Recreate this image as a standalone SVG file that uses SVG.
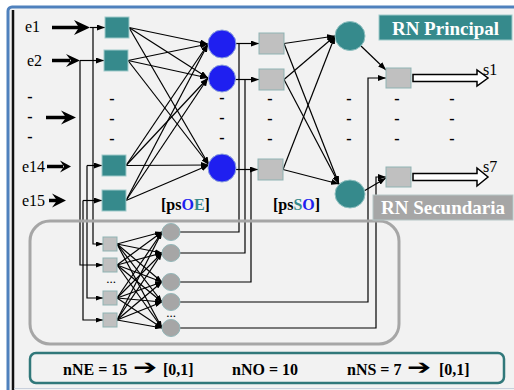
<svg xmlns="http://www.w3.org/2000/svg" width="514" height="390" viewBox="0 0 514 390">
<style>
.ser{font-family:"Liberation Serif","Times New Roman",serif;}
.lbl{font-family:"Liberation Serif","Times New Roman",serif;font-size:16px;fill:#000;}
.b{font-weight:bold;}
.dash{font-family:"Liberation Serif",serif;font-size:16px;font-weight:bold;text-anchor:middle;fill:#000;}
.ln{fill:none;stroke:#000;stroke-width:1.2;}
.ar{marker-end:url(#ah);}
.ars{marker-end:url(#ahs);}
.tsq{fill:#368a8c;stroke:#9fcaca;stroke-width:1;}
.gsq{fill:#c0c0c0;stroke:#8fb3b3;stroke-width:1;}
.bc{fill:#1f1ff0;stroke:#8aa0dc;stroke-width:1;}
.tc{fill:#368a8c;stroke:#8fc0c0;stroke-width:1;}
.gc{fill:#a6a6a6;stroke:#93b6b8;stroke-width:1;}
.big{fill:#000;}
.shaft{stroke:#000;stroke-width:3.5;fill:none;}
.hol{fill:#fff;stroke:#000;stroke-width:1.5;}
.arw{font-family:"DejaVu Sans",sans-serif;font-size:18px;}
</style>
<defs>
<marker id="ah" markerWidth="8" markerHeight="6" refX="8" refY="3" orient="auto" markerUnits="userSpaceOnUse"><path d="M0,0 L8,3 L0,6 Z" fill="#000"/></marker>
<marker id="ahs" markerWidth="7" markerHeight="5" refX="7" refY="2.5" orient="auto" markerUnits="userSpaceOnUse"><path d="M0,0 L7,2.5 L0,5 Z" fill="#000"/></marker>
</defs>
<rect x="0" y="0" width="514" height="390" fill="#fff"/>
<rect x="8" y="7" width="520" height="400" rx="4" fill="#f2f2f2" stroke="#4f81bd" stroke-width="3"/>
<line x1="13" y1="10" x2="13" y2="390" stroke="#111" stroke-width="2.5"/>
<line x1="14" y1="388.5" x2="514" y2="388.5" stroke="#c8d0dc" stroke-width="1"/>

<g id="connectors">
<path class="shaft" d="M52,27.5 H80"/>
<path class="big" d="M90,27.5 L74,20 L79,27.5 L74,35 Z"/>
<path class="shaft" d="M52,60.5 H70"/>
<path class="big" d="M80,60.5 L66,54 L71,60.5 L66,67 Z"/>
<path class="shaft" d="M46,117.5 H66"/>
<path class="big" d="M76,117.5 L61,110.5 L66,117.5 L61,124.5 Z"/>
<path class="shaft" d="M47,166.5 H63"/>
<path class="big" d="M71,166.5 L60,160.5 L64,166.5 L60,172.5 Z"/>
<path class="shaft" d="M49,200.5 H57"/>
<path class="big" d="M66,200.5 L52,193.5 L57,200.5 L52,207.5 Z"/>
<path class="ln ar" d="M90,27.5 H105"/>
<path class="ln ar" d="M80,60.5 H104"/>
<path class="ln ar" d="M87,165.5 H102"/>
<path class="ln ar" d="M83,200.5 H102"/>
<path class="ln ars" d="M93,27.5 V244 H103"/>
<path class="ln ars" d="M80,60.5 V265 H103"/>
<path class="ln ars" d="M87,165.5 V298 H103"/>
<path class="ln ars" d="M83,200.5 V320 H103"/>
<path class="ln ar" d="M129,27.5 L208,44"/>
<path class="ln ar" d="M129,27.5 L208,78"/>
<path class="ln ar" d="M129,27.5 L209,165"/>
<path class="ln ar" d="M128,60.5 L208,44"/>
<path class="ln ar" d="M128,60.5 L208,78"/>
<path class="ln ar" d="M128,60.5 L209,165"/>
<path class="ln ar" d="M126,165.5 L208,44"/>
<path class="ln ar" d="M126,165.5 L208,78"/>
<path class="ln ar" d="M126,165.5 L209,165"/>
<path class="ln ar" d="M126,200.5 L208,44"/>
<path class="ln ar" d="M126,200.5 L208,78"/>
<path class="ln ar" d="M126,200.5 L209,165"/>
<path class="ln ar" d="M236,43.5 H259"/>
<path class="ln ar" d="M235,79.5 H259"/>
<path class="ln ar" d="M236,169.5 H258"/>
<path class="ln" d="M180,232 H239 V43.5"/>
<path class="ln" d="M180,253 H245 V79.5"/>
<path class="ln" d="M180,282 H251 V169.5"/>
<path class="ln ar" d="M180,302 H368 V78 H386"/>
<path class="ln ar" d="M180,328 H376 V177 H386"/>
<path class="ln ar" d="M284,43.5 L335,36"/>
<path class="ln ar" d="M284,43.5 L339,184"/>
<path class="ln ar" d="M284,79.5 L335,36"/>
<path class="ln ar" d="M284,79.5 L339,184"/>
<path class="ln ar" d="M283,169.5 L335,36"/>
<path class="ln ar" d="M283,169.5 L339,184"/>
<path class="ln ar" d="M361,46 L386,70"/>
<path class="ln ar" d="M364,191 L386,178"/>
<path class="ln ars" d="M117,244 L162,232"/>
<path class="ln ars" d="M117,244 L162,253"/>
<path class="ln ars" d="M117,244 L162,282"/>
<path class="ln ars" d="M117,244 L162,302"/>
<path class="ln ars" d="M117,244 L162,328"/>
<path class="ln ars" d="M117,265 L162,232"/>
<path class="ln ars" d="M117,265 L162,253"/>
<path class="ln ars" d="M117,265 L162,282"/>
<path class="ln ars" d="M117,265 L162,302"/>
<path class="ln ars" d="M117,265 L162,328"/>
<path class="ln ars" d="M117,298 L162,232"/>
<path class="ln ars" d="M117,298 L162,253"/>
<path class="ln ars" d="M117,298 L162,282"/>
<path class="ln ars" d="M117,298 L162,302"/>
<path class="ln ars" d="M117,298 L162,328"/>
<path class="ln ars" d="M117,320 L162,232"/>
<path class="ln ars" d="M117,320 L162,253"/>
<path class="ln ars" d="M117,320 L162,282"/>
<path class="ln ars" d="M117,320 L162,302"/>
<path class="ln ars" d="M117,320 L162,328"/>
<path class="hol" d="M413,74.5 H477 V70 L488,78 L477,86 V81.5 H413 Z"/>
<path class="hol" d="M413,173.5 H477 V168 L488,177 L477,186 V180.5 H413 Z"/>
</g>

<rect x="30" y="221" width="369" height="123" rx="20" fill="none" stroke="#a6a6a6" stroke-width="3"/>

<g id="node-in1"><rect class="tsq" x="105" y="17" width="24" height="21"/></g>
<g id="node-in2"><rect class="tsq" x="104" y="50" width="24" height="21"/></g>
<g id="node-in14"><rect class="tsq" x="102" y="155" width="24" height="21"/></g>
<g id="node-in15"><rect class="tsq" x="102" y="190" width="24" height="21"/></g>
<g id="node-oe1"><circle class="bc" cx="222" cy="44" r="14"/></g>
<g id="node-oe2"><circle class="bc" cx="222" cy="78.5" r="13.5"/></g>
<g id="node-oe10"><circle class="bc" cx="222" cy="168" r="14"/></g>
<g id="node-ps1"><rect class="gsq" x="259" y="33" width="25" height="21"/></g>
<g id="node-ps2"><rect class="gsq" x="259" y="69" width="25" height="21"/></g>
<g id="node-ps10"><rect class="gsq" x="258" y="159" width="25" height="21"/></g>
<g id="node-so1"><ellipse class="tc" cx="350" cy="36" rx="15" ry="14.5"/></g>
<g id="node-so2"><ellipse class="tc" cx="350" cy="194" rx="15" ry="14"/></g>
<g id="node-out1"><rect class="gsq" x="386" y="68" width="25" height="20"/></g>
<g id="node-out7"><rect class="gsq" x="386" y="167" width="25" height="20"/></g>
<g id="node-sin1"><rect class="gsq" x="103" y="237" width="14" height="14"/></g>
<g id="node-sin2"><rect class="gsq" x="103" y="258" width="14" height="14"/></g>
<g id="node-sin3"><rect class="gsq" x="103" y="291" width="14" height="14"/></g>
<g id="node-sin4"><rect class="gsq" x="103" y="313" width="14" height="14"/></g>
<g id="node-sh1"><ellipse class="gc" cx="171" cy="232" rx="9" ry="8.5"/></g>
<g id="node-sh2"><ellipse class="gc" cx="171" cy="253" rx="9" ry="8.5"/></g>
<g id="node-sh3"><ellipse class="gc" cx="171" cy="282" rx="9" ry="8.5"/></g>
<g id="node-sh4"><ellipse class="gc" cx="171" cy="302" rx="9" ry="8.5"/></g>
<g id="node-sh5"><ellipse class="gc" cx="171" cy="328" rx="9" ry="8.5"/></g>

<g id="labels">
<text class="lbl" x="25" y="32">e1</text>
<text class="lbl" x="27" y="66">e2</text>
<text class="lbl" x="22" y="172">e14</text>
<text class="lbl" x="22" y="206">e15</text>
<text class="lbl" x="483" y="75">s1</text>
<text class="lbl" x="483" y="172">s7</text>
<text class="dash" x="30" y="102">-</text>
<text class="dash" x="30" y="122">-</text>
<text class="dash" x="30" y="142">-</text>
<text class="dash" x="112" y="104">-</text>
<text class="dash" x="112" y="124">-</text>
<text class="dash" x="112" y="144">-</text>
<text class="dash" x="222" y="103">-</text>
<text class="dash" x="222" y="123">-</text>
<text class="dash" x="222" y="143">-</text>
<text class="dash" x="270" y="104">-</text>
<text class="dash" x="270" y="124">-</text>
<text class="dash" x="270" y="144">-</text>
<text class="dash" x="349" y="104">-</text>
<text class="dash" x="349" y="124">-</text>
<text class="dash" x="349" y="144">-</text>
<text class="dash" x="397" y="104">-</text>
<text class="dash" x="397" y="124">-</text>
<text class="dash" x="397" y="144">-</text>
<text class="dash" x="452" y="104">-</text>
<text class="dash" x="452" y="124">-</text>
<text class="dash" x="452" y="144">-</text>
<text class="ser" x="111" y="283" font-size="13" text-anchor="middle">...</text>
<text class="ser" x="171" y="317" font-size="13" text-anchor="middle">...</text>
<text class="ser b" x="161" y="210" font-size="16">[ps<tspan fill="#1f1ff0">O</tspan><tspan fill="#368a8c">E</tspan>]</text>
<text class="ser b" x="273" y="210" font-size="16">[ps<tspan fill="#368a8c">S</tspan><tspan fill="#1f1ff0">O</tspan>]</text>
</g>

<g id="rn-principal">
<rect x="379" y="15" width="133" height="25" fill="#368a8c" stroke="#9fcaca" stroke-width="1"/>
<text class="ser b" x="445.5" y="35" font-size="19" fill="#fff" text-anchor="middle">RN Principal</text>
</g>
<g id="rn-secundaria">
<rect x="373" y="195" width="140" height="25" fill="#a6a6a6" stroke="#b5c6c6" stroke-width="1"/>
<text class="ser b" x="443" y="214" font-size="19" fill="#fff" text-anchor="middle">RN Secundaria</text>
</g>

<g id="summary">
<rect x="30" y="353" width="474" height="30" rx="6" fill="none" stroke="#31787a" stroke-width="2.5"/>
<text class="ser b" x="63" y="375" font-size="16">nNE = 15</text>
<text class="arw" transform="translate(133,374) scale(1.6,1.15)">➔</text>
<text class="ser b" x="163" y="375" font-size="16">[0,1]</text>
<text class="ser b" x="232" y="375" font-size="16">nNO = 10</text>
<text class="ser b" x="347" y="375" font-size="16">nNS = 7</text>
<text class="arw" transform="translate(407,374) scale(1.6,1.15)">➔</text>
<text class="ser b" x="439" y="375" font-size="16">[0,1]</text>
</g>
</svg>
